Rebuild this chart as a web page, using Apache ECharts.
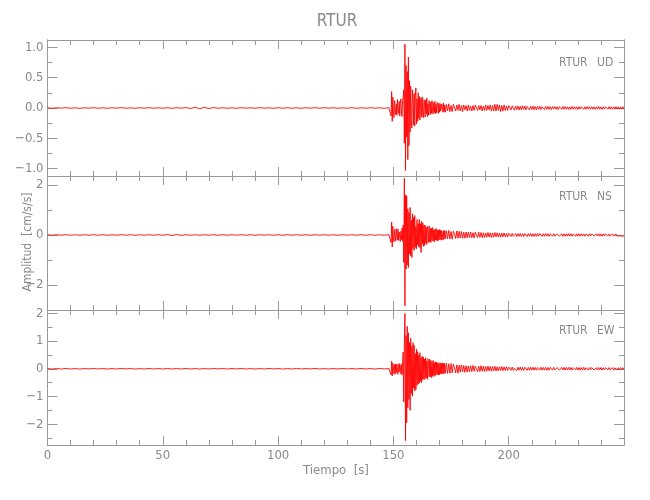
<!DOCTYPE html>
<html><head><meta charset="utf-8">
<script src="https://cdn.jsdelivr.net/npm/echarts@6/dist/echarts.min.js"></script>
<style>html,body{margin:0;padding:0;background:#fff}#c{width:650px;height:500px}</style>
</head><body><div id="c"></div>
<script>
// ---- tick values ----
const xMajorTicks = [0, 50, 100, 150, 200];
const xMinorTicks = [10, 20, 30, 40, 60, 70, 80, 90, 110, 120, 130, 140, 160, 170, 180, 190, 210, 220, 230, 240];
const udMajor = [-1.0, -0.5, 0.0, 0.5, 1.0];
const udMinor = [-0.75, -0.25, 0.25, 0.75];
const nsMajor = [-2, 0, 2];
const nsMinor = [-3, -1, 1];
const ewMajor = [-2, -1, 0, 1, 2];
const ewMinor = [-2.5, -1.5, -0.5, 0.5, 1.5];
const udRange = [-1.12, 1.12];
const nsRange = [-3.0, 2.36];
const ewRange = [-2.75, 2.12];
const stationLabels = ['UD', 'NS', 'EW'];

// ---- sampling (seconds) of the segments of each trace ----
const noiseStart = 0, noiseStep = 2;           // 0 .. 148 s
const strongStart = 148.75, strongStep = 0.25; // 148.75 .. 172.5 s
const decayStart = 173, decayStep = 0.5;       // 173 .. 200 s
const codaStart = 200.5, codaStep = 0.5;       // 200.5 .. 250 s

// ---- UD component [cm/s/s] ----
const udNoise = [0.002,-0.005,0.004,-0.003,0.005,-0.004,0.003,-0.006,0.004,-0.003,
0.005,-0.004,0.003,-0.005,0.004,-0.003,0.006,-0.004,0.003,-0.005,
0.004,-0.003,0.005,-0.004,0.003,-0.004,0.005,-0.005,0.004,-0.003,
0.006,-0.008,0.011,-0.012,0.011,-0.009,0.007,-0.005,0.004,-0.004,
0.003,-0.005,0.005,-0.003,0.004,-0.004,0.005,-0.003,0.003,-0.005,
0.004,-0.004,0.005,-0.004,0.003,-0.005,0.004,-0.003,0.005,-0.004,
0.005,-0.003,0.004,-0.005,0.003,-0.004,0.005,-0.005,0.004,-0.004,
0.005,-0.004,0.004,-0.006,0.006];
const udStrong = [0.02,-0.13,0.27,-0.22,0.18,-0.04,-0.16,0.12,0.09,-0.11,
0.06,-0.12,0.14,-0.03,-0.09,0.11,-0.13,0.08,0.15,-0.10,
-0.14,0.12,0.18,0.30,-0.58,1.05,-1.03,0.70,-0.48,0.60,
-0.85,0.84,-0.62,0.45,-0.40,0.36,-0.18,-0.33,0.30,0.12,
-0.28,0.24,-0.30,0.20,0.33,-0.26,0.15,-0.22,0.25,-0.17,
0.19,-0.20,0.08,0.17,-0.15,0.18,-0.12,-0.16,0.14,0.10,
-0.15,0.13,-0.10,0.16,-0.14,0.07,-0.12,0.12,0.09,-0.11,
0.10,-0.09,0.12,-0.06,-0.10,0.09,-0.08,0.11,-0.09,0.06,
-0.08,0.09,0.05,-0.09,0.08,-0.07,0.07,-0.05,-0.08,0.07,
0.06,-0.07,0.08,-0.06,0.05,-0.07];
const udDecay = [0.06,-0.05,0.07,-0.06,0.04,-0.06,0.06,0.03,-0.05,0.05,
-0.04,0.06,-0.05,0.04,-0.06,0.05,-0.03,0.04,-0.05,0.05,
-0.04,0.03,-0.05,0.04,-0.04,0.05,0.02,-0.04,0.04,-0.03,
0.04,-0.05,0.03,-0.04,0.05,-0.04,0.04,-0.03,0.05,-0.05,
0.04,-0.05,0.06,-0.05,0.06,-0.04,0.05,-0.06,0.04,-0.05,
0.05,-0.04,0.03,-0.04,0.04];
const udCoda = [0.04,-0.032,0.036,0.012,-0.038,0.03,-0.026,0.034,-0.032,0.028,
-0.03,0.036,-0.022,0.03,-0.032,0.026,0.01,-0.03,0.028,-0.026,
0.032,-0.028,0.024,-0.03,0.026,-0.02,0.028,-0.026,0.022,0.008,
-0.026,0.024,-0.022,0.028,-0.024,0.02,-0.026,0.024,-0.018,0.025,
-0.022,0.02,-0.025,0.022,0.008,-0.024,0.025,-0.02,0.024,-0.022,
0.02,-0.024,0.018,-0.022,0.024,-0.02,0.022,-0.02,0.018,-0.024,
0.022,-0.018,0.02,0.006,-0.022,0.02,-0.021,0.024,-0.018,0.02,
-0.02,0.022,-0.02,0.018,-0.022,0.02,-0.018,0.024,-0.02,0.018,
-0.022,0.02,-0.018,0.02,0.008,-0.02,0.022,-0.018,0.02,-0.021,
0.018,-0.02,0.022,-0.018,0.02,-0.02,0.018,-0.021,0.02,-0.018];

// ---- NS component ----
const nsNoise = [0.008,-0.01,0.009,-0.008,0.01,-0.009,0.008,-0.01,0.009,-0.008,
0.01,-0.008,0.009,-0.01,0.008,-0.009,0.01,-0.008,0.009,-0.01,
0.008,-0.009,0.01,-0.008,0.009,-0.01,0.016,-0.02,0.018,-0.014,
0.01,-0.009,0.008,-0.01,0.009,-0.008,0.01,-0.009,0.008,-0.01,
0.009,-0.008,0.01,-0.009,0.008,-0.01,0.009,-0.008,0.01,-0.009,
0.008,-0.01,0.009,-0.008,0.01,-0.009,0.008,-0.01,0.009,-0.008,
0.01,-0.009,0.008,-0.01,0.009,-0.008,0.01,-0.009,0.008,-0.01,
0.009,-0.01,0.008,-0.01,0.015];
const nsStrong = [0.03,-0.30,0.52,-0.48,0.35,-0.10,-0.27,0.22,0.18,-0.25,
0.26,-0.08,-0.20,0.24,-0.22,0.12,0.20,-0.26,0.15,-0.18,
0.28,-0.25,0.40,-1.10,2.27,-2.83,1.60,-1.36,1.57,-1.20,
1.05,-1.30,0.90,-0.75,1.10,-0.83,0.60,-0.90,0.85,-0.55,
0.70,-0.62,0.78,-0.50,0.35,-0.55,0.62,-0.40,0.45,-0.48,
0.62,-0.50,0.45,-0.70,0.55,-0.35,0.48,-0.45,0.40,-0.42,
0.40,-0.33,0.30,-0.38,0.34,0.12,-0.30,0.36,-0.28,0.26,
-0.30,0.28,-0.22,0.30,-0.25,0.20,-0.27,0.24,-0.20,0.26,
-0.22,0.21,-0.24,0.19,-0.20,0.22,-0.18,0.20,-0.21,0.17,
0.19,-0.20,0.17,-0.16,0.19,-0.15];
const nsDecay = [0.17,-0.15,0.18,-0.16,0.14,-0.17,0.15,0.06,-0.14,0.16,
-0.13,0.15,-0.12,0.14,-0.13,0.11,-0.13,0.12,-0.11,0.12,
-0.10,0.12,-0.11,0.09,-0.12,0.11,0.04,-0.10,0.11,-0.09,
0.10,-0.11,0.09,-0.10,0.08,-0.09,0.10,-0.08,0.09,-0.10,
0.08,-0.09,0.10,-0.07,0.09,-0.08,0.07,-0.09,0.08,-0.07,
0.08,-0.07,0.06,-0.08,0.07];
const nsCoda = [0.07,-0.06,0.065,-0.055,0.02,0.06,-0.065,0.055,-0.05,0.06,
-0.055,0.05,-0.06,0.055,0.015,-0.06,0.055,-0.05,0.06,-0.055,
0.05,-0.06,0.055,-0.05,0.06,-0.045,0.055,0.01,-0.055,0.05,
-0.05,0.06,-0.045,0.05,-0.055,0.05,0.02,-0.05,0.055,-0.045,
-0.05,0.045,0.055,-0.05,-0.01,0.05,-0.055,0.045,-0.05,0.05,
-0.045,0.055,-0.04,0.05,-0.05,0.045,0.015,-0.05,0.045,-0.045,
0.05,-0.045,0.05,-0.04,0.045,-0.05,0.04,0.01,-0.045,0.05,
-0.04,0.045,0.05,-0.045,0.01,0.045,-0.04,0.05,-0.045,0.04,
-0.05,0.045,-0.04,0.05,0.02,-0.045,0.04,-0.045,-0.04,0.045,
-0.04,0.035,0.045,-0.04,0.04,-0.035,0.045,-0.04,0.035,-0.04];

// ---- EW component ----
const ewNoise = [0.008,-0.01,0.006,-0.008,0.01,-0.008,0.006,-0.01,0.008,-0.006,
0.01,-0.008,0.008,-0.01,0.006,-0.008,0.01,-0.006,0.008,-0.01,
0.006,-0.008,0.01,-0.008,0.008,-0.01,0.011,-0.01,0.008,-0.008,
0.01,-0.008,0.006,-0.01,0.008,-0.008,0.01,-0.006,0.008,-0.01,
0.008,-0.006,0.01,-0.008,0.006,-0.01,0.008,-0.008,0.01,-0.006,
0.008,-0.01,0.006,-0.008,0.01,-0.008,0.008,-0.006,0.01,-0.008,
0.006,-0.01,0.008,-0.008,0.01,-0.006,0.008,-0.01,0.011,-0.008,
0.008,-0.01,0.011,-0.008,0.01];
const ewStrong = [0.06,-0.22,0.27,-0.26,0.20,0.08,-0.18,0.15,-0.20,0.17,
-0.14,0.18,-0.10,-0.20,0.16,-0.12,0.19,0.07,-0.18,0.15,
-0.22,0.25,0.60,-1.20,0.90,1.99,-2.60,1.20,-1.95,1.53,
-1.40,1.30,-1.10,0.95,-1.50,1.10,-0.90,0.80,-0.99,0.94,
-0.70,0.85,-0.80,0.55,-0.75,0.70,-0.60,0.62,-0.55,0.50,
-0.52,0.58,-0.45,0.40,-0.50,0.45,-0.38,0.42,-0.40,0.35,
-0.36,0.40,-0.33,0.28,-0.38,0.36,0.12,-0.30,0.34,-0.28,
0.30,-0.32,0.26,-0.28,0.30,-0.24,0.22,-0.27,0.25,-0.22,
0.24,-0.20,0.22,-0.23,0.19,-0.21,0.22,-0.18,0.20,-0.19,
0.21,-0.18,0.19,-0.17,0.20,-0.16];
const ewDecay = [0.19,-0.17,0.18,-0.16,0.19,-0.15,0.16,0.05,-0.15,0.14,
-0.16,0.13,-0.12,0.14,-0.11,0.12,-0.13,0.11,-0.12,0.10,
-0.11,0.11,-0.10,0.12,-0.09,0.10,0.03,-0.11,0.09,-0.10,
0.11,-0.09,0.09,-0.10,0.08,-0.09,0.10,-0.08,0.08,-0.09,
0.08,-0.07,0.09,-0.08,0.07,-0.08,0.07,-0.06,0.08,-0.07,
0.07,-0.06,0.07,-0.06,0.06];
const ewCoda = [0.065,-0.055,0.06,-0.06,0.015,0.055,-0.065,0.055,-0.05,0.06,
-0.055,0.05,-0.06,0.055,0.01,-0.055,0.05,-0.055,0.05,-0.05,
0.055,-0.05,0.05,-0.055,0.045,0.02,-0.05,0.055,-0.05,0.045,
-0.05,0.05,-0.055,0.045,-0.05,0.05,0.015,-0.05,0.05,-0.045,
-0.05,0.045,0.05,-0.05,-0.01,0.05,-0.045,0.05,-0.05,0.045,
-0.045,0.05,-0.045,0.05,-0.05,0.04,0.015,-0.045,0.05,-0.045,
0.045,-0.05,0.04,-0.045,0.05,-0.045,0.04,0.01,-0.045,0.045,
-0.04,0.045,0.045,-0.05,0.01,0.04,-0.045,0.045,-0.04,0.045,
-0.045,0.04,-0.045,0.045,0.015,-0.04,0.045,-0.04,-0.045,0.04,
-0.04,0.035,0.045,-0.04,0.04,-0.04,0.045,-0.035,0.04,-0.04];

// ---- build ----
function seg(vals, t0, dt) { return vals.map((v, i) => [t0 + i * dt, v]); }
function trace(n, s, d, c) {
  return seg(n, noiseStart, noiseStep).concat(
    seg(s, strongStart, strongStep), seg(d, decayStart, decayStep), seg(c, codaStart, codaStep));
}
const traces = [
  trace(udNoise, udStrong, udDecay, udCoda),
  trace(nsNoise, nsStrong, nsDecay, nsCoda),
  trace(ewNoise, ewStrong, ewDecay, ewCoda)
];

const FONT = "'Liberation Sans Narrow','DejaVu Sans Condensed','Roboto Condensed',sans-serif";
const AX = '#9a9a9a', TX = '#8a8a8a';
const MINUS = s => String(s).replace('-', '\u2212');
const fmts = [v => MINUS(Number(v).toFixed(1)), v => MINUS(Math.round(v)), v => MINUS(Math.round(v))];
const ranges = [udRange, nsRange, ewRange];
const majors = [udMajor, nsMajor, ewMajor];
const minors = [udMinor, nsMinor, ewMinor];
const grids = [
  {left: 47.5, right: 26, top: 40, height: 136},
  {left: 47.5, right: 26, top: 176, height: 134},
  {left: 47.5, right: 26, top: 310, height: 135}
];

const xAxis = [], yAxis = [], series = [];
for (let g = 0; g < 3; g++) {
  const xBase = xAxis.length;
  [['bottom', xMajorTicks, 9, true], ['bottom', xMinorTicks, 5, false], ['top', xMajorTicks, 9, false], ['top', xMinorTicks, 5, false]]
    .forEach(([pos, vals, len, main]) => {
      xAxis.push({
        gridIndex: g, type: 'value', min: 0, max: 250, position: pos,
        axisLine: {show: true, onZero: false, lineStyle: {color: AX, width: 1}},
        axisTick: {show: true, inside: true, length: len, customValues: vals, lineStyle: {color: AX}},
        axisLabel: {show: main && g === 2, customValues: xMajorTicks, color: TX, fontFamily: FONT, fontSize: 13, margin: 4},
        splitLine: {show: false}
      });
    });
  const yBase = yAxis.length;
  [['left', majors[g], 10, true], ['left', minors[g], 5, false], ['right', majors[g], 10, false], ['right', minors[g], 5, false]]
    .forEach(([pos, vals, len, main]) => {
      yAxis.push({
        gridIndex: g, type: 'value', min: ranges[g][0], max: ranges[g][1], position: pos,
        axisLine: {show: true, onZero: false, lineStyle: {color: AX, width: 1}},
        axisTick: {show: true, inside: true, length: len, customValues: vals, lineStyle: {color: AX}},
        axisLabel: {show: main, customValues: majors[g], formatter: fmts[g], color: TX, fontFamily: FONT, fontSize: 13, margin: 4},
        splitLine: {show: false}
      });
    });
  series.push({
    type: 'line', xAxisIndex: xBase, yAxisIndex: yBase, data: traces[g],
    showSymbol: false, symbol: 'none', sampling: null, animation: false,
    lineStyle: {color: '#ff0000', width: 0.9}, silent: true, z: 1
  });
}

const labelYs = [63, 197, 331];
const graphic = [
  {type: 'text', x: 337, y: 22, style: {text: 'RTUR', font: '17px ' + FONT, fill: TX, textAlign: 'center', textVerticalAlign: 'middle'}},
  {type: 'text', x: 28, y: 242, rotation: Math.PI / 2, style: {text: 'Amplitud  [cm/s/s]', font: '12px ' + FONT, fill: TX, textAlign: 'center', textVerticalAlign: 'middle'}},
  {type: 'text', x: 336, y: 471, style: {text: 'Tiempo  [s]', font: '13px ' + FONT, fill: TX, textAlign: 'center', textVerticalAlign: 'middle'}}
];
stationLabels.forEach((c, i) => {
  graphic.push({type: 'text', x: 559, y: labelYs[i], style: {text: 'RTUR', font: '12px ' + FONT, fill: TX, textAlign: 'left', textVerticalAlign: 'middle'}});
  graphic.push({type: 'text', x: 597, y: labelYs[i], style: {text: c, font: '12px ' + FONT, fill: TX, textAlign: 'left', textVerticalAlign: 'middle'}});
});

const chart = echarts.init(document.getElementById('c'), null, {renderer: 'canvas'});
chart.setOption({animation: false, backgroundColor: '#fff', grid: grids, xAxis, yAxis, series, graphic});
</script></body></html>
